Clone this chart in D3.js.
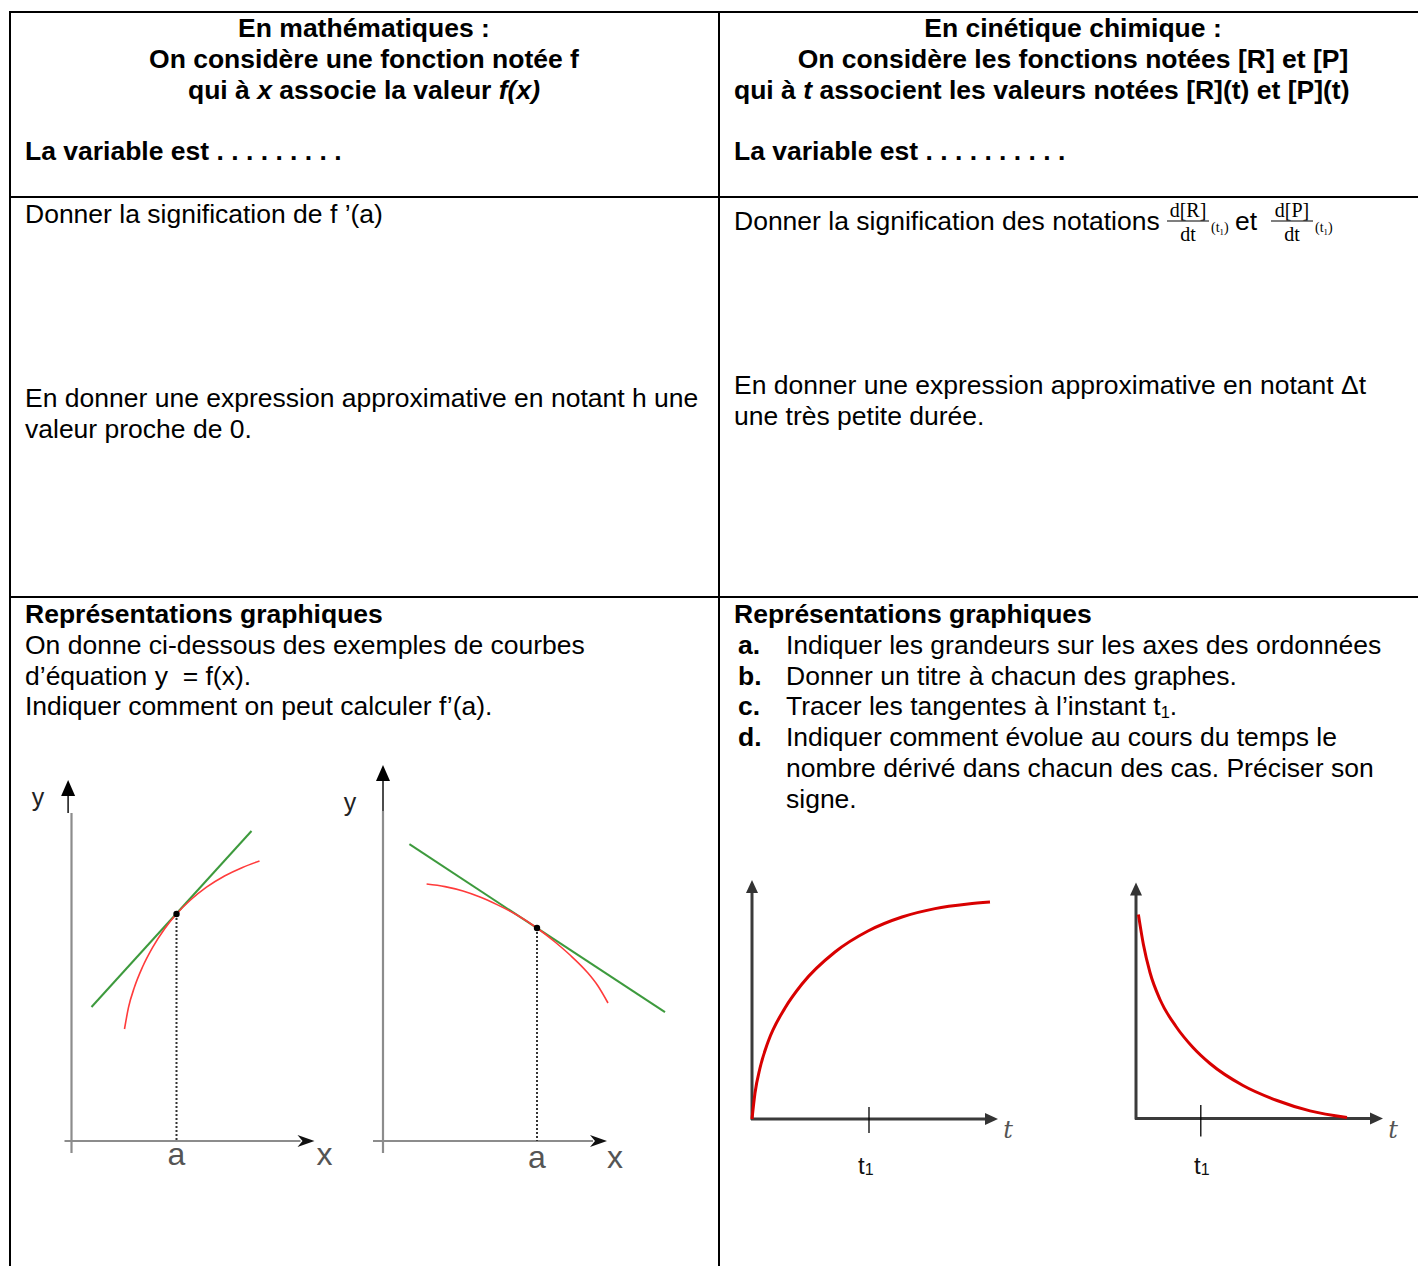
<!DOCTYPE html>
<html><head><meta charset="utf-8">
<script src="https://cdn.jsdelivr.net/npm/d3@7"></script>
<style>
body{margin:0;background:#fff}
svg{display:block}
text{font-family:"Liberation Sans",Arial,sans-serif;white-space:pre}
</style>
</head><body>
<script>
// ---------------- DATA ----------------
const leftHeaderLines = [
  [{t:"En mathématiques :"}],
  [{t:"On considère une fonction notée f"}],
  [{t:"qui à "},{t:"x",i:1},{t:" associe la valeur "},{t:"f(x)",i:1}]
];
const rightHeaderLines = [
  [{t:"En cinétique chimique :"}],
  [{t:"On considère les fonctions notées [R] et [P]"}]
];
const rightHeaderLeftLine = [{t:"qui à "},{t:"t",i:1},{t:" associent les valeurs notées [R](t) et [P](t)"}];
const variableLeft = "La variable est . . . . . . . . .";
const variableRight = "La variable est . . . . . . . . . .";
const leftMeaning = "Donner la signification de f ’(a)";
const rightMeaning = "Donner la signification des notations";
const fractionNums = ["d[R]", "d[P]"];
const fractionDen = "dt";
const leftApprox = ["En donner une expression approximative en notant h une", "valeur proche de 0."];
const rightApprox = ["En donner une expression approximative en notant Δt", "une très petite durée."];
const graphTitle = "Représentations graphiques";
const leftGraphLines = [
  [{t:"On donne ci-dessous des exemples de courbes"}],
  [{t:"d’équation y  = f(x)."}],
  [{t:"Indiquer comment on peut calculer f’(a)."}]
];
const taskLabels = ["a.", "b.", "c.", "d.", "", ""];
const taskLines = [
  [{t:"Indiquer les grandeurs sur les axes des ordonnées"}],
  [{t:"Donner un titre à chacun des graphes."}],
  [{t:"Tracer les tangentes à l’instant t"},{t:"1",sub:1},{t:"."}],
  [{t:"Indiquer comment évolue au cours du temps le"}],
  [{t:"nombre dérivé dans chacun des cas. Préciser son"}],
  [{t:"signe."}]
];

// math graph 1 (increasing, concave) - graph units
const math1Curve = [[2.7,5.6],[2.9,6.68],[3.2,7.7],[3.6,8.7],[4.1,9.67],[4.7,10.6],[5.3,11.35],[6.0,12.05],[6.8,12.69],[7.7,13.25],[8.6,13.68],[9.45,14.0]];
const math1Tangent = [[1.05,6.7],[9.05,15.5]];
const math1Point = [5.3,11.35];
// math graph 2 (decreasing, concave)
const math2Curve = [[2.18,12.85],[3.1,12.72],[4.0,12.5],[4.85,12.2],[5.7,11.82],[6.7,11.3],[7.7,10.65],[8.6,9.95],[9.35,9.3],[10.2,8.45],[10.75,7.75],[11.25,6.9]];
const math2Tangent = [[1.32,14.84],[14.1,6.44]];
const math2Point = [7.7,10.65];
// kinetics: product formation and reactant consumption
const productCurve = [[0,0],[0.15,1.3],[0.4,2.55],[0.8,3.85],[1.65,5.55],[2.5,6.75],[4.15,8.35],[5.8,9.4],[7.5,10.1],[9.15,10.52],[10.8,10.75],[11.9,10.85]];
const reactantCurve = [[0.12,10.2],[0.37,8.7],[0.7,7.3],[1.2,5.95],[2.0,4.6],[2.85,3.55],[3.7,2.75],[5.35,1.65],[7.05,0.9],[8.7,0.38],[10.55,0.05]];
const productT1 = 5.85;
const reactantT1 = 3.24;
const mathLabels = ["y", "x", "a"];
const chemLabels = ["t", "t", "1"];

// ---------------- DRAWING ----------------
const W = 1418, H = 1266;
const FS = 26.5;
const svg = d3.select("body").append("svg").attr("width", W).attr("height", H);
svg.append("rect").attr("width", W).attr("height", H).attr("fill", "#fff");

function rich(x, y, segs, opt = {}) {
  const size = opt.size || FS;
  const t = svg.append("text").attr("x", x).attr("y", y)
    .attr("font-size", size).attr("font-weight", opt.bold ? "bold" : "normal")
    .attr("text-anchor", opt.anchor || "start").attr("fill", opt.fill || "#000");
  if (opt.family) t.style("font-family", opt.family);
  let shift = 0;
  segs.forEach(s => {
    const sp = t.append("tspan").text(s.t);
    if (s.i) sp.attr("font-style", "italic");
    if (s.sub) { sp.attr("font-size", size * 0.62).attr("dy", 3); shift = 3; }
    else if (shift) { sp.attr("dy", -shift); shift = 0; }
  });
  return t;
}

// table grid
const grid = svg.append("g").attr("stroke", "#000").attr("stroke-width", 2);
[12, 197, 597].forEach(yy => grid.append("line").attr("x1", 9).attr("x2", W).attr("y1", yy).attr("y2", yy));
[10, 719].forEach(xx => grid.append("line").attr("x1", xx).attr("x2", xx).attr("y1", 11).attr("y2", H));

// headers
leftHeaderLines.forEach((l, i) => rich(364, 37 + i * 31, l, {bold: true, anchor: "middle"}));
rightHeaderLines.forEach((l, i) => rich(1073, 37 + i * 31, l, {bold: true, anchor: "middle"}));
rich(734, 99, rightHeaderLeftLine, {bold: true});
rich(25, 160, [{t: variableLeft}], {bold: true});
rich(734, 160, [{t: variableRight}], {bold: true});

// row 2
rich(25, 223, [{t: leftMeaning}]);
rich(734, 230, [{t: rightMeaning}]);
const fracCenters = [1188, 1292];
fracCenters.forEach((cx, i) => {
  rich(cx, 217, [{t: fractionNums[i]}], {size: 20, anchor: "middle", family: "'Liberation Serif',serif"});
  svg.append("line").attr("x1", cx - 21).attr("x2", cx + 21).attr("y1", 221).attr("y2", 221).attr("stroke", "#000").attr("stroke-width", 1.2);
  rich(cx, 241, [{t: fractionDen}], {size: 20, anchor: "middle", family: "'Liberation Serif',serif"});
  rich(cx + 23, 232, [{t: "(t"}, {t: "1", sub: 1}, {t: ")"}], {size: 14, family: "'Liberation Serif',serif"});
});
rich(1235, 230, [{t: "et"}]);
leftApprox.forEach((l, i) => rich(25, 407 + i * 31, [{t: l}]));
rightApprox.forEach((l, i) => rich(734, 394 + i * 31, [{t: l}]));

// row 3 texts
rich(25, 623, [{t: graphTitle}], {bold: true});
rich(734, 623, [{t: graphTitle}], {bold: true});
leftGraphLines.forEach((l, i) => rich(25, 654 + i * 30.7, l));
taskLines.forEach((l, i) => {
  if (taskLabels[i]) rich(738, 654 + i * 30.7, [{t: taskLabels[i]}], {bold: true});
  rich(786, 654 + i * 30.7, l);
});

// arrow helper (pixel space): tip (tx,ty), direction unit (dx,dy)
function arrow(tx, ty, dx, dy, len, hw, notch, fill) {
  const bx = tx - dx * len, by = ty - dy * len;
  const px = -dy, py = dx;
  const nx = tx - dx * (len - notch), ny = ty - dy * (len - notch);
  svg.append("path").attr("d",
    `M${tx},${ty}L${bx + px * hw},${by + py * hw}L${nx},${ny}L${bx - px * hw},${by - py * hw}Z`)
    .attr("fill", fill);
}

// ---- math graphs
const mathCfg = [
  {ox: 70.5, oy: 1141, curve: math1Curve, tan: math1Tangent, pt: math1Point,
   axisX: 0.05, stemX: -0.12, yTop: 16.4, yTip: 18.05, xLeft: -0.3, xTip: 12.2,
   yLab: [-1.62, 16.75], xLab: [12.7, -1.2], aLab: -1.2},
  {ox: 383, oy: 1141, curve: math2Curve, tan: math2Tangent, pt: math2Point,
   axisX: 0, stemX: 0, yTop: 16.5, yTip: 18.8, xLeft: -0.5, xTip: 11.2,
   yLab: [-1.65, 16.5], xLab: [11.6, -1.35], aLab: -1.35}
];
mathCfg.forEach(c => {
  const x = d3.scaleLinear().domain([0, 12]).range([c.ox, c.ox + 240]);
  const y = d3.scaleLinear().domain([0, 17]).range([c.oy, c.oy - 340]);
  const g = svg.append("g");
  g.append("line").attr("x1", x(c.axisX)).attr("x2", x(c.axisX)).attr("y1", y(-0.6)).attr("y2", y(c.yTop))
    .attr("stroke", "#8c8c8c").attr("stroke-width", 2.2);
  g.append("line").attr("x1", x(c.xLeft)).attr("x2", x(c.xTip) - 14).attr("y1", y(0)).attr("y2", y(0))
    .attr("stroke", "#8c8c8c").attr("stroke-width", 2.2);
  g.append("line").attr("x1", x(c.stemX)).attr("x2", x(c.stemX)).attr("y1", y(c.yTop)).attr("y2", y(c.yTip) + 12)
    .attr("stroke", "#111").attr("stroke-width", 1.5);
  arrow(x(c.stemX), y(c.yTip), 0, -1, 16, 7, 0, "#000");
  arrow(x(c.xTip), y(0), 1, 0, 17, 6, 5, "#111");
  g.append("line").attr("x1", x(c.pt[0])).attr("x2", x(c.pt[0])).attr("y1", y(c.pt[1])).attr("y2", y(0))
    .attr("stroke", "#333").attr("stroke-width", 2).attr("stroke-dasharray", "2,2");
  g.append("path").datum(c.tan).attr("d", d3.line().x(d => x(d[0])).y(d => y(d[1])))
    .attr("stroke", "#3d9a3d").attr("stroke-width", 2).attr("fill", "none");
  g.append("path").datum(c.curve).attr("d", d3.line().curve(d3.curveMonotoneX).x(d => x(d[0])).y(d => y(d[1])))
    .attr("stroke", "#ff3b3b").attr("stroke-width", 1.6).attr("fill", "none");
  g.append("circle").attr("cx", x(c.pt[0])).attr("cy", y(c.pt[1])).attr("r", 3.2).attr("fill", "#000");
  rich(x(c.yLab[0]), y(c.yLab[1]), [{t: mathLabels[0]}], {size: 25, anchor: "middle", fill: "#222"});
  rich(x(c.xLab[0]), y(c.xLab[1]), [{t: mathLabels[1]}], {size: 32, anchor: "middle", fill: "#555"});
  rich(x(c.pt[0]), y(c.aLab), [{t: mathLabels[2]}], {size: 32, anchor: "middle", fill: "#555"});
});

// ---- kinetics graphs
const chemCfg = [
  {ox: 752, oy: 1119, curve: productCurve, t1: productT1, yTip: 11.95, xTip: 12.3, tick: [-0.7, 0.6], tLab: 12.8, t1Lab: 5.7},
  {ox: 1136, oy: 1118.5, curve: reactantCurve, t1: reactantT1, yTip: 11.8, xTip: 12.35, tick: [-0.9, 0.68], tLab: 12.85, t1Lab: 3.3}
];
chemCfg.forEach(c => {
  const x = d3.scaleLinear().domain([0, 12]).range([c.ox, c.ox + 240]);
  const y = d3.scaleLinear().domain([0, 12]).range([c.oy, c.oy - 240]);
  const g = svg.append("g");
  g.append("line").attr("x1", x(0)).attr("x2", x(0)).attr("y1", y(0) + 1).attr("y2", y(c.yTip) + 10)
    .attr("stroke", "#3b3b3b").attr("stroke-width", 3);
  g.append("line").attr("x1", x(0) - 1).attr("x2", x(c.xTip) - 10).attr("y1", y(0)).attr("y2", y(0))
    .attr("stroke", "#3b3b3b").attr("stroke-width", 3);
  arrow(x(0), y(c.yTip), 0, -1, 13, 6, 0, "#333");
  arrow(x(c.xTip), y(0), 1, 0, 13, 6, 0, "#333");
  g.append("line").attr("x1", x(c.t1)).attr("x2", x(c.t1)).attr("y1", y(c.tick[0])).attr("y2", y(c.tick[1]))
    .attr("stroke", "#000").attr("stroke-width", 1.3);
  g.append("path").datum(c.curve).attr("d", d3.line().curve(d3.curveMonotoneX).x(d => x(d[0])).y(d => y(d[1])))
    .attr("stroke", "#d80000").attr("stroke-width", 3).attr("fill", "none");
  rich(x(c.tLab), y(-0.95), [{t: chemLabels[0], i: 1}], {size: 24, anchor: "middle", fill: "#555", family: "'DejaVu Serif',serif"});
  const tt = rich(x(c.t1Lab) - 8, y(-2.75), [{t: chemLabels[1]}], {size: 24, fill: "#111"});
  tt.append("tspan").attr("font-size", 16).attr("dy", 1).text(chemLabels[2]);
});
</script>
</body></html>
